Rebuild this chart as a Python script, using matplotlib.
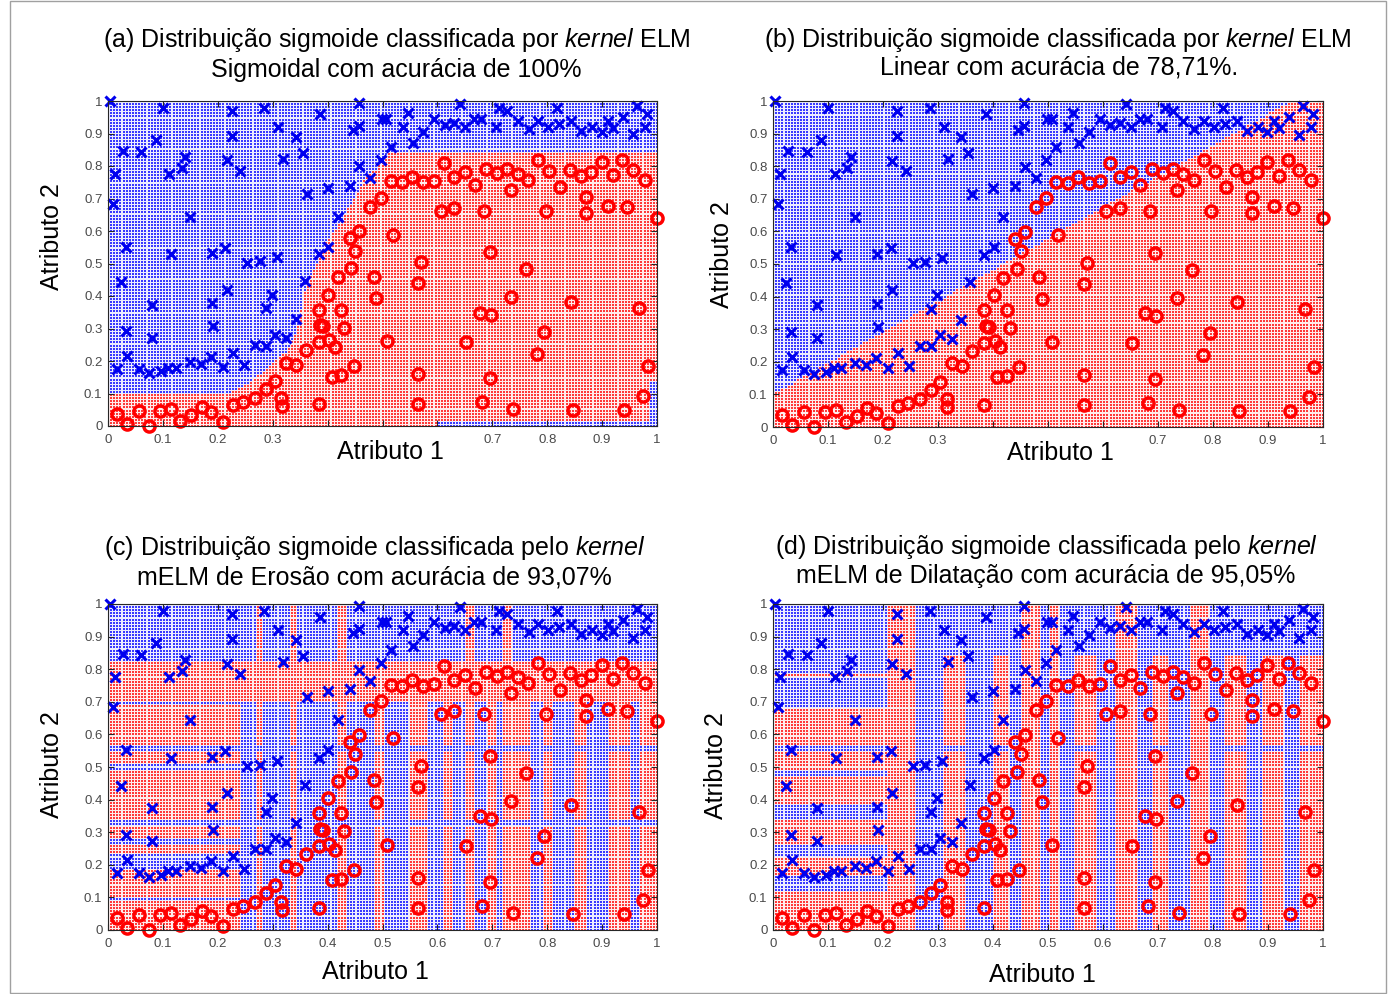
import numpy as np
import matplotlib
matplotlib.use('Agg')
import matplotlib.pyplot as plt
from matplotlib.patches import Rectangle

plt.rcParams['font.family'] = ['Liberation Sans', 'DejaVu Sans']
plt.rcParams['mathtext.fontset'] = 'custom'
plt.rcParams['mathtext.rm'] = 'Liberation Sans'
plt.rcParams['mathtext.it'] = 'Liberation Sans:italic'

# ---------------- data points (same in all four panels) ----------------
blue_x = [0.003, 0.100, 0.013, 0.027, 0.061, 0.088, 0.009, 0.032, 0.023, 0.032, 0.035, 0.017,
          0.056, 0.074, 0.080, 0.080, 0.096, 0.112, 0.114, 0.110, 0.124, 0.134, 0.141, 0.149,
          0.149, 0.169, 0.188, 0.209, 0.248, 0.189, 0.189, 0.191, 0.216, 0.214, 0.216, 0.226,
          0.225, 0.241, 0.228, 0.254, 0.267, 0.277, 0.285, 0.288, 0.287, 0.299, 0.304, 0.308,
          0.310, 0.319, 0.325, 0.342, 0.355, 0.342, 0.362, 0.359, 0.387, 0.384, 0.400, 0.401,
          0.419, 0.440, 0.446, 0.457, 0.457, 0.458, 0.478, 0.497, 0.499,
          0.507, 0.537, 0.546, 0.574, 0.594, 0.613, 0.630, 0.641, 0.650, 0.667, 0.680, 0.707,
          0.713, 0.727, 0.746, 0.766, 0.783, 0.801, 0.818, 0.821, 0.843, 0.862, 0.882, 0.899,
          0.911, 0.920, 0.938, 0.957, 0.964, 0.981, 0.979, 0.515, 0.556]
blue_y = [1.000, 0.980, 0.776, 0.846, 0.843, 0.879, 0.683, 0.552, 0.442, 0.291, 0.214, 0.175,
          0.175, 0.164, 0.373, 0.272, 0.170, 0.776, 0.529, 0.180, 0.180, 0.794, 0.827, 0.644,
          0.197, 0.190, 0.211, 0.182, 0.188, 0.532, 0.378, 0.308, 0.817, 0.548, 0.419, 0.969,
          0.892, 0.784, 0.226, 0.502, 0.250, 0.507, 0.979, 0.363, 0.247, 0.404, 0.281, 0.519,
          0.920, 0.822, 0.270, 0.889, 0.840, 0.329, 0.714, 0.445, 0.959, 0.529, 0.732, 0.552,
          0.644, 0.740, 0.910, 0.922, 0.994, 0.799, 0.764, 0.819, 0.946,
          0.946, 0.920, 0.963, 0.904, 0.946, 0.925, 0.933, 0.990, 0.920, 0.946, 0.946, 0.920,
          0.979, 0.969, 0.940, 0.915, 0.940, 0.920, 0.979, 0.928, 0.940, 0.907, 0.920, 0.904,
          0.938, 0.918, 0.951, 0.897, 0.984, 0.959, 0.920, 0.860, 0.870]

red_x = [0.017, 0.035, 0.056, 0.075, 0.095, 0.114, 0.132, 0.152, 0.171, 0.188, 0.209, 0.228,
         0.246, 0.267, 0.287, 0.304, 0.316, 0.317, 0.325, 0.343, 0.361, 0.384, 0.384, 0.384,
         0.387, 0.392, 0.401, 0.403, 0.408, 0.413, 0.419, 0.425, 0.425, 0.430, 0.440, 0.443,
         0.450, 0.458, 0.448, 0.478, 0.484, 0.489, 0.497, 0.508,
         0.515, 0.536, 0.554, 0.574, 0.594, 0.612, 0.630, 0.650, 0.668, 0.689, 0.709, 0.727,
         0.746, 0.765, 0.734, 0.784, 0.804, 0.823, 0.841, 0.862, 0.880, 0.871, 0.871, 0.899,
         0.920, 0.937, 0.957, 0.978, 0.910, 0.946, 1.000, 0.606, 0.630, 0.685, 0.797, 0.519,
         0.695, 0.571, 0.565, 0.762, 0.734, 0.843, 0.968, 0.677, 0.697, 0.794, 0.653, 0.782,
         0.565, 0.695, 0.983, 0.565, 0.681, 0.738, 0.847, 0.940, 0.975]
red_y = [0.038, 0.007, 0.046, 0.000, 0.046, 0.051, 0.015, 0.034, 0.059, 0.044, 0.012, 0.065,
         0.075, 0.085, 0.113, 0.139, 0.087, 0.062, 0.195, 0.188, 0.233, 0.257, 0.069, 0.358,
         0.311, 0.308, 0.404, 0.264, 0.152, 0.244, 0.457, 0.358, 0.157, 0.303, 0.578, 0.486,
         0.540, 0.599, 0.185, 0.675, 0.460, 0.394, 0.702, 0.262,
         0.753, 0.750, 0.766, 0.750, 0.755, 0.809, 0.766, 0.781, 0.743, 0.791, 0.778, 0.791,
         0.776, 0.757, 0.727, 0.819, 0.784, 0.735, 0.788, 0.768, 0.781, 0.704, 0.655, 0.812,
         0.771, 0.819, 0.789, 0.757, 0.678, 0.673, 0.640, 0.663, 0.671, 0.663, 0.663, 0.589,
         0.534, 0.504, 0.439, 0.483, 0.396, 0.383, 0.363, 0.349, 0.342, 0.288, 0.257, 0.221,
         0.159, 0.147, 0.185, 0.069, 0.074, 0.053, 0.048, 0.048, 0.092]

# ---------------- decision regions ----------------
# (a) sigmoid kernel: red below this boundary
bound_a_x = [0.0, 0.22, 0.26, 0.30, 0.325, 0.346, 0.36, 0.40, 0.425, 0.455, 0.47, 0.49, 0.51, 1.0]
bound_a_y = [0.10, 0.10, 0.135, 0.19, 0.23, 0.30, 0.43, 0.57, 0.63, 0.72, 0.765, 0.79, 0.843, 0.843]
blue_boxes_a = [(0.60, 1.0, 0.0, 0.015), (0.985, 1.0, 0.0, 0.14)]  # x0, x1, y0, y1
# (b) linear kernel: red below this line
bound_b_x = [0.0, 1.0]
bound_b_y = [0.10, 1.055]
# (c) erosion kernel: column/row stripes, the stronger one decides
c_col_edges = [0, .24, .27, .28, .33, .345, .42, .435, .486, .504, .55, .585, .61, .63, .65,
               .67, .69, .705, .72, .735, .77, .79, .81, .85, .875, .91, .95, .97, 1.0]
c_col_lab = "BBRBRBRBRBRBRBRBRBRRBRBRBRBR"
c_col_str = [0, 1.5, 2.5, 1.5, 2.5, 1.5, 2.5, 1.5, 1.5, 1.5, 1.5, 1.5, 1.5, 1.5, 2.5,
             1.5, 1.5, 1.5, 2.5, 1.5, 1.5, 1.5, 1.5, 1.5, 1.5, 1.5, 1.5, 1.5]
c_row_edges = [0, .09, .10, .19, .23, .26, .28, .315, .335, .49, .51, .55, .565, .69, .70, .82, 1.0]
c_row_lab = "RBRBRBRBRBRBRBRB"
c_row_str = [1, 1, 1, 1, 1, 1, 1, 2.6, 1, 1, 1, 2.6, 1, 1, 3, 2]
# (d) dilation kernel
d_col_edges = [0, .21, .26, .31, .35, .40, .43, .45, .486, .504, .52, .55, .59, .625, .66,
               .69, .72, .76, .79, .82, .86, .89, .93, .96, 1.0]
d_col_lab = "BRBRBRBRBRBRBRBRBRBRBRBR"
d_col_str = [0, 3, 1.5, 1.5, 1.5, 1.5, 1.5, 2.5, 1.5, 2.5, 1.5, 1.5, 1.5, 2.5, 1.5,
             1.5, 1.5, 2.5, 1.5, 1.5, 1.5, 1.5, 1.5, 1.5]
d_row_edges = [0, .12, .17, .22, .26, .34, .39, .47, .49, .55, .57, .68, .78, .79, .84, 1.0]
d_row_lab = "RBRBRBRBRBRBRBB"
d_row_str = [1, 1, 1, 1, 1, 1, 1, 1, 1, 2.2, 1, 1, 1, 1, 2]

titles = [
    ("(a) Distribuição sigmoide classificada por $\\mathit{kernel}$ ELM",
     "Sigmoidal com acurácia de 100%"),
    ("(b) Distribuição sigmoide classificada por $\\mathit{kernel}$ ELM",
     "Linear com acurácia de 78,71%."),
    ("(c) Distribuição sigmoide classificada pelo $\\mathit{kernel}$",
     "mELM de Erosão com acurácia de 93,07%"),
    ("(d) Distribuição sigmoide classificada pelo $\\mathit{kernel}$",
     "mELM de Dilatação com acurácia de 95,05%"),
]
tick_vals = [0, 0.1, 0.2, 0.3, 0.4, 0.5, 0.6, 0.7, 0.8, 0.9, 1.0]
tick_labels = ['0', '0.1', '0.2', '0.3', '0.4', '0.5', '0.6', '0.7', '0.8', '0.9', '1']
tick_labels_gap = ['0', '0.1', '0.2', '0.3', '', '', '', '0.7', '0.8', '0.9', '1']
xlabel = "Atributo 1"
ylabel = "Atributo 2"

# ---------------- helpers ----------------
NX, NY = 177, 106
gx1 = np.linspace(0, 1, NX)
gy1 = np.linspace(0, 1, NY)
GX, GY = np.meshgrid(gx1, gy1)


def curve_mask(bx, by):
    return GY < np.interp(GX, bx, by)


def stripe_mask(ce, cl, cs, re, rl, rs):
    ci = np.clip(np.searchsorted(ce, GX, side='right') - 1, 0, len(cl) - 1)
    ri = np.clip(np.searchsorted(re, GY, side='right') - 1, 0, len(rl) - 1)
    cl_a = np.array(list(cl))
    rl_a = np.array(list(rl))
    use_col = np.array(cs)[ci] > np.array(rs)[ri]
    lab = np.where(use_col, cl_a[ci], rl_a[ri])
    return lab == 'R'


mask_a = curve_mask(bound_a_x, bound_a_y)
for (x0, x1, y0, y1) in blue_boxes_a:
    mask_a &= ~((GX >= x0) & (GX <= x1) & (GY >= y0) & (GY <= y1))
mask_b = curve_mask(bound_b_x, bound_b_y)
mask_c = stripe_mask(c_col_edges, c_col_lab, c_col_str, c_row_edges, c_row_lab, c_row_str)
mask_d = stripe_mask(d_col_edges, d_col_lab, d_col_str, d_row_edges, d_row_lab, d_row_str)
masks = [mask_a, mask_b, mask_c, mask_d]

W, H = 1392, 994
fig = plt.figure(figsize=(W / 100, H / 100), dpi=100)
fig.patch.set_facecolor('white')
fig.add_artist(Rectangle((10 / W, 1 / H), 1376 / W, 992 / H, transform=fig.transFigure,
                         fill=False, edgecolor='#a0a0a0', linewidth=1.0))

# axes boxes in pixels: left, right, top, bottom
boxes = [(108, 657, 101, 426), (773, 1323, 101, 427), (108, 657, 604, 930), (773, 1323, 604, 930)]
title_pos = [((397, 40), (396, 70)), ((1058, 40), (1059, 68)),
             ((375, 548), (374, 578)), ((1047, 547), (1046, 576))]
xlab_pos = [(390, 452), (1060, 453), (375, 972), (1042, 975)]
ylab_pos = [(52, 237), (722, 255), (52, 765), (716, 766)]

pale_red = np.array([1.0, 0.93, 0.93])
pale_blue = np.array([0.93, 0.93, 1.0])
dot_red = '#ff3a3a'
dot_blue = '#3a3aff'
dx = 1 / (NX - 1)
dy = 1 / (NY - 1)

for i, (l, r, t, b) in enumerate(boxes):
    ax = fig.add_axes([l / W, 1 - b / H, (r - l) / W, (b - t) / H])
    m = masks[i]
    rgb = np.where(m[..., None], pale_red, pale_blue)
    ax.imshow(rgb, extent=(-dx / 2, 1 + dx / 2, -dy / 2, 1 + dy / 2), origin='lower',
              aspect='auto', interpolation='nearest', zorder=0)
    ax.scatter(GX[m], GY[m], s=1.7, marker='s', c=dot_red, linewidths=0, zorder=1)
    ax.scatter(GX[~m], GY[~m], s=1.7, marker='s', c=dot_blue, linewidths=0, zorder=1)
    ax.plot(blue_x, blue_y, linestyle='none', marker='x', color='#0000ee', ms=7.5, mew=2.2,
            clip_on=False, zorder=3)
    ax.plot(red_x, red_y, linestyle='none', marker='o', mfc='none', mec='#ff0000', ms=8,
            mew=2.5, clip_on=False, zorder=3)
    ax.set_xlim(0, 1)
    ax.set_ylim(0, 1)
    ax.set_xticks(tick_vals)
    ax.set_yticks(tick_vals)
    ax.set_xticklabels(tick_labels_gap if i < 2 else tick_labels)
    ax.set_yticklabels(tick_labels)
    ax.tick_params(direction='in', length=4, width=0.8, top=True, right=True,
                   labelsize=9.5, labelcolor='#4a4a4a', color='#262626')
    ax.tick_params(axis='x', pad=6)
    ax.tick_params(axis='y', pad=4)
    for s in ax.spines.values():
        s.set_color('#262626')
        s.set_linewidth(0.8)
        s.set_zorder(4)
    (t1x, t1y), (t2x, t2y) = title_pos[i]
    fig.text(t1x / W, 1 - t1y / H, titles[i][0], ha='center', va='center', fontsize=18)
    fig.text(t2x / W, 1 - t2y / H, titles[i][1], ha='center', va='center', fontsize=18)
    fig.text(xlab_pos[i][0] / W, 1 - xlab_pos[i][1] / H, xlabel, ha='center', va='center',
             fontsize=18)
    fig.text(ylab_pos[i][0] / W, 1 - ylab_pos[i][1] / H, ylabel, ha='center', va='center',
             fontsize=18, rotation=90)

fig.savefig('out.png', dpi=100, facecolor='white')
